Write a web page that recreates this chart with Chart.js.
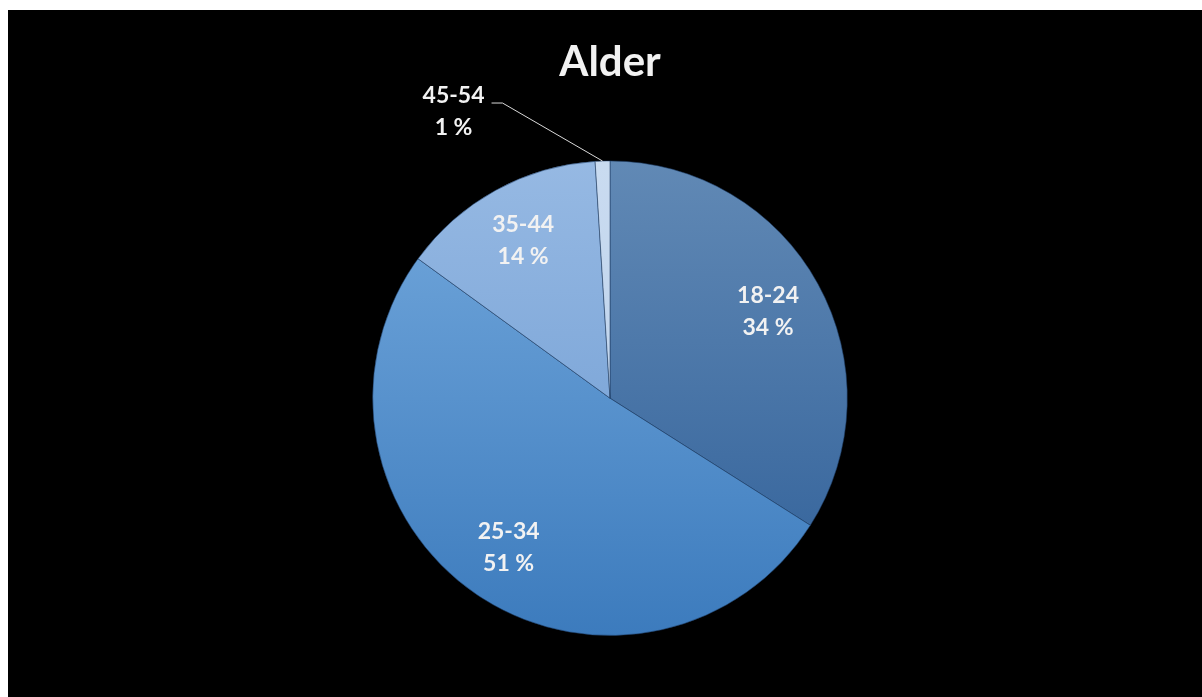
<!DOCTYPE html>
<html>
<head>
<meta charset="utf-8">
<title>Alder</title>
<script src="https://cdn.jsdelivr.net/npm/chart.js@4/dist/chart.umd.min.js"></script>
<style>
	html, body { margin: 0; padding: 0; background: #fff; }
	.card {
		position: absolute;
		left: 8px;
		top: 10px;
		width: 1194px;
		height: 687px;
		background: #000;
	}
</style>
</head>
<body>
<div class="card"><canvas id="ageChart" width="1194" height="687"></canvas></div>
<script>
const ageGroups = ["18-24", "25-34", "35-44", "45-54"];
const agePercent = [34, 51, 14, 1];

// top / bottom colour of each slice's vertical gradient
const sliceTop = ["#6189b5", "#74a9dd", "#96b9e3", "#c9dbf0"];
const sliceBottom = ["#2f5f98", "#3c7bbd", "#6a98d0", "#b9cfea"];

const textColor = "#f2f2f2";
const fontFamily = "Lato, 'Open Sans', sans-serif";

function sliceFill(context) {
	const chart = context.chart;
	const i = context.dataIndex;
	const area = chart.chartArea;
	if (!area) return sliceTop[i];
	const g = chart.ctx.createLinearGradient(0, area.top, 0, area.bottom);
	g.addColorStop(0, sliceTop[i]);
	g.addColorStop(1, sliceBottom[i]);
	return g;
}

// draws "label / value %" inside each slice, small slices get a leader line
const sliceLabels = {
	id: "sliceLabels",
	afterDatasetsDraw(chart) {
		const ctx = chart.ctx;
		const meta = chart.getDatasetMeta(0);
		ctx.save();
		ctx.fillStyle = textColor;
		ctx.font = "bold 23px " + fontFamily;
		ctx.textAlign = "center";
		ctx.textBaseline = "middle";
		meta.data.forEach((arc, i) => {
			const { x, y, startAngle, endAngle, outerRadius } = arc.getProps(
				["x", "y", "startAngle", "endAngle", "outerRadius"],
				true
			);
			const mid = (startAngle + endAngle) / 2;
			const value = agePercent[i];
			let lx, ly;
			if (value < 5) {
				const ax = x + Math.cos(mid) * outerRadius;
				const ay = y + Math.sin(mid) * outerRadius;
				ctx.strokeStyle = "#d9d9d9";
				ctx.lineWidth = 1;
				ctx.beginPath();
				ctx.moveTo(ax, ay);
				ctx.lineTo(ax - 100, ay - 58);
				ctx.lineTo(ax - 111, ay - 58);
				ctx.stroke();
				lx = ax - 149;
				ly = ay - 49;
			} else {
				lx = x + Math.cos(mid) * outerRadius * 0.76;
				ly = y + Math.sin(mid) * outerRadius * 0.76;
			}
			ctx.fillText(ageGroups[i], lx, ly - 16);
			ctx.fillText(value + " %", lx, ly + 16);
		});
		ctx.restore();
	},
};

new Chart(document.getElementById("ageChart"), {
	type: "pie",
	data: {
		labels: ageGroups,
		datasets: [
			{
				data: agePercent,
				backgroundColor: sliceFill,
				borderColor: "rgba(30, 60, 100, 0.55)",
				borderWidth: 1,
			},
		],
	},
	plugins: [sliceLabels],
	options: {
		responsive: false,
		animation: false,
		layout: {
			padding: { left: 364, right: 354, top: 0, bottom: 61 },
		},
		plugins: {
			legend: { display: false },
			tooltip: { enabled: false },
			title: {
				display: true,
				text: "Alder",
				color: textColor,
				font: { family: fontFamily, size: 42, weight: "bold", lineHeight: 1.2 },
				padding: { top: 27, bottom: 73 },
			},
		},
	},
});
</script>
</body>
</html>
